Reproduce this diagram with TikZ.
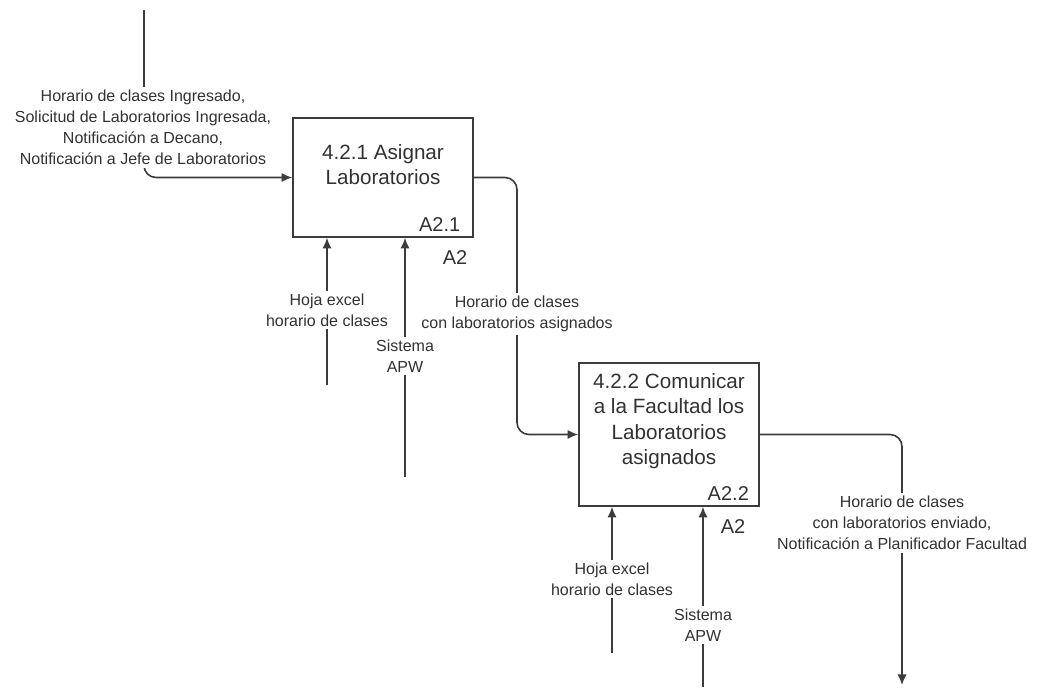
\documentclass[tikz,border=0pt]{standalone}
\usepackage{fontspec}
\setmainfont{Liberation Sans}
\usetikzlibrary{arrows.meta}
\definecolor{linegray}{RGB}{60,60,60}
\definecolor{textgray}{RGB}{50,50,50}

\tikzset{
  proc/.style={draw=linegray, line width=1.2pt, minimum width=135pt, inner sep=0pt},
  flow/.style={draw=linegray, line width=1.2pt, -{Latex[length=8pt,width=7pt]}, rounded corners=9pt},
  lbl/.style={fill=white, align=center, text=textgray, font=\fontsize{12}{15.75}\selectfont, inner sep=2pt},
  ttl/.style={align=center, text=textgray, font=\fontsize{15.5}{19}\selectfont},
  ref/.style={text=textgray, font=\fontsize{15}{18}\selectfont, inner sep=0pt},
}

\begin{document}
\begin{tikzpicture}[x=0.75pt,y=-0.75pt]
\useasboundingbox (0,0) rectangle (1037,687);

% actividades
\node[proc, minimum height=89.25pt] (asignar) at (383,177.5) {};
\node[proc, minimum height=107.25pt] (comunicar) at (669,434.5) {};
\node[ttl] (tasignar) at ([yshift=9.5pt]asignar.center) {4.2.1 Asignar\\Laboratorios};
\node[ttl] (tcomunicar) at ([yshift=10pt]comunicar.center) {4.2.2 Comunicar\\a la Facultad los\\Laboratorios\\asignados};
\node[ref, anchor=south east] (rasignar) at ([xshift=-10pt,yshift=4.5pt]asignar.south east) {A2.1};
\node[ref, anchor=south east] (rcomunicar) at ([xshift=-8pt,yshift=4.5pt]comunicar.south east) {A2.2};
\node[ref] (padre1) at (455,258) {A2};
\node[ref] (padre2) at (733,527) {A2};

% extremos libres
\coordinate (entrada) at (144,10);
\coordinate (giro) at (517,300);
\coordinate (salida) at (902,685);
\coordinate (hoja1) at (327,385);
\coordinate (apw1) at (405,477);
\coordinate (hoja2) at (612,653);
\coordinate (apw2) at (703,687);

% flujos
\draw[flow] (entrada) |- (asignar.west);
\draw[flow] (asignar.east) -| (giro) |- (comunicar.west);
\draw[flow] (comunicar.east) -| (salida);
\draw[flow] (hoja1) -- (hoja1 |- asignar.south);
\draw[flow] (apw1) -- (apw1 |- asignar.south);
\draw[flow] (hoja2) -- (hoja2 |- comunicar.south);
\draw[flow] (apw2) -- (apw2 |- comunicar.south);

% etiquetas
\node[lbl] (lentrada) at (143,127.5) {Horario de clases Ingresado,\\Solicitud de Laboratorios Ingresada,\\Notificación a Decano,\\Notificación a Jefe de Laboratorios};
\node[lbl] (lgiro) at (517,314) {Horario de clases\\con laboratorios asignados};
\node[lbl] (lsalida) at (902,523) {Horario de clases\\con laboratorios enviado,\\Notificación a Planificador Facultad};
\node[lbl] (lhoja1) at (327,310) {Hoja excel\\horario de clases};
\node[lbl] (lapw1) at (405,356) {Sistema\\APW};
\node[lbl] (lhoja2) at (612,579) {Hoja excel\\horario de clases};
\node[lbl] (lapw2) at (703,625) {Sistema\\APW};
\end{tikzpicture}
\end{document}
